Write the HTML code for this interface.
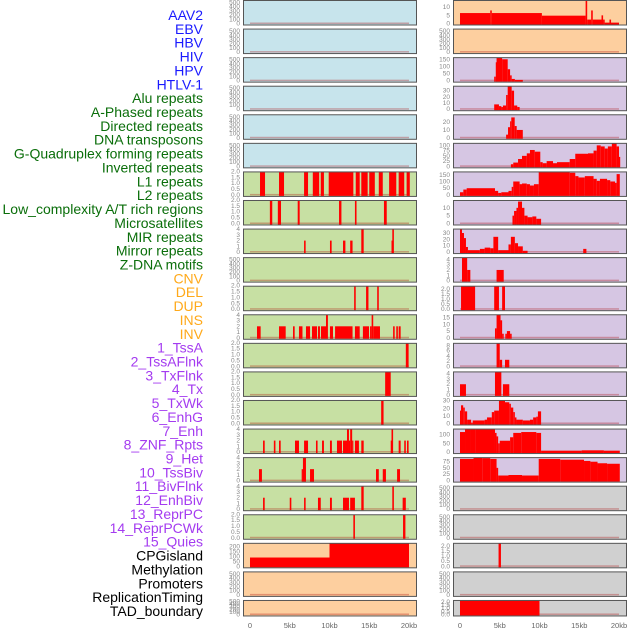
<!DOCTYPE html>
<html><head><meta charset="utf-8">
<style>
html,body{margin:0;padding:0;background:#fff;}
svg{display:block;}
.lbl{font-family:"Liberation Sans",sans-serif;font-size:14px;}
.tk{font-family:"Liberation Sans",sans-serif;font-size:6.5px;fill:#888;}
.xt{font-family:"Liberation Sans",sans-serif;font-size:7.5px;fill:#666;}
</style></head>
<body>
<svg id="chart" width="630" height="630" viewBox="0 0 630 630" xmlns="http://www.w3.org/2000/svg">
<g id="labels"></g>
<g id="panels"></g>
<g id="xaxes"></g>
</svg>
<script>
// ---- track labels ----
const trackLabels = ["AAV2","EBV","HBV","HIV","HPV","HTLV-1","Alu repeats","A-Phased repeats","Directed repeats","DNA transposons","G-Quadruplex forming repeats","Inverted repeats","L1 repeats","L2 repeats","Low_complexity A/T rich regions","Microsatellites","MIR repeats","Mirror repeats","Z-DNA motifs","CNV","DEL","DUP","INS","INV","1_TssA","2_TssAFlnk","3_TxFlnk","4_Tx","5_TxWk","6_EnhG","7_Enh","8_ZNF_Rpts","9_Het","10_TssBiv","11_BivFlnk","12_EnhBiv","13_ReprPC","14_ReprPCWk","15_Quies","CPGisland","Methylation","Promoters","ReplicationTiming","TAD_boundary"];
const labelGroups = ["v","v","v","v","v","v","r","r","r","r","r","r","r","r","r","r","r","r","r","c","c","c","c","c","s","s","s","s","s","s","s","s","s","s","s","s","s","s","s","o","o","o","o","o"];
const groupColors = {v:"#1a1aff",r:"#0a6e0a",c:"#ffa91a",s:"#a43bf0",o:"#000000"};

// ---- x axis ----
const xTickValues = [0,5,10,15,20];
const xTickLabels = ["0","5kb","10kb","15kb","20kb"];

// ---- tick sets ----
const t500 = ["0","100","200","300","400","500"];
const t2 = ["0.0","0.5","1.0","1.5","2.0"];
const t4 = ["0","1","2","3","4"];

// ---- left column bar data [startKb, endKb, value] ----
const L7 = [[1.26,1.89,2],[3.65,4.28,2],[6.8,7.3,2],[7.9,8.7,2],[8.9,9.3,2],[9.9,13.0,2],[13.3,13.8,2],[14.0,14.8,2],[15.0,15.7,2],[16.2,16.7,2],[17.5,18.4,2],[18.7,19.4,2],[19.7,20.1,2]];
const L8 = [[2.5,2.8,2],[3.5,3.9,2],[6.0,6.25,2],[11.2,11.5,2],[13.2,13.4,2],[16.85,17.2,2]];
const L9 = [[6.8,7.0,2],[10.06,10.27,2],[11.7,12.0,2],[12.6,12.9,2],[14.0,14.3,4],[17.8,17.9,2],[17.9,18.1,4]];
const L11 = [[13.1,13.3,2],[14.6,14.9,2],[16.0,16.2,2]];
const L12 = [[0.88,1.34,2],[3.65,4.49,2],[5.41,5.62,2],[6.16,6.6,2],[7.04,7.55,2],[7.8,8.43,2],[8.55,8.8,2],[8.93,9.56,2],[9.56,9.8,4],[10.06,10.44,2],[10.7,12.9,2],[13.2,13.8,2],[14.2,14.97,2],[15.1,15.3,2],[15.3,15.5,4],[15.5,16.35,2],[18.0,18.2,2],[18.4,18.6,2],[18.7,18.95,2]];
const L13 = [[19.6,19.95,2]];
const L14 = [[17.0,17.7,2]];
const L15 = [[16.5,16.8,2]];
const L16 = [[1.64,1.85,2],[3.0,3.2,2],[3.65,3.86,2],[5.66,6.16,2],[6.8,7.3,2],[8.3,8.5,2],[9.06,9.3,2],[10.06,10.3,2],[10.94,11.57,2],[11.7,12.2,2],[12.2,12.45,4],[12.45,12.6,2],[12.6,12.85,4],[12.85,12.9,2],[13.2,13.7,2],[14.0,14.3,2],[17.7,17.8,2],[17.8,18.0,4],[18.7,18.95,2],[19.4,19.6,2],[19.75,19.95,2]];
const L17 = [[1.13,1.5,2],[6.5,6.66,2],[6.66,7.04,4],[7.55,8.05,2],[15.85,16.2,2],[16.7,17.1,2],[18.5,18.87,2]];
const L18 = [[1.64,1.85,2],[5.0,5.2,2],[6.8,7.0,2],[8.55,8.9,2],[10.06,10.3,2],[11.7,12.45,2],[12.6,13.2,2],[14.0,14.3,4],[17.9,18.1,4],[19.2,19.6,2]];
const L19 = [[13.0,13.2,2],[19.25,19.55,2]];
const L20 = [[0,10,90],[10,20,240]];

// ---- right column step data [startKb, endKb, value] ----
const R1 = [[0,3.8,6.4],[3.8,4.0,8],[4.0,10.3,6.4],[10.3,15.8,4.8],[15.8,16.0,16],[16.0,16.5,2.4],[16.5,16.7,8],[16.7,17.8,2.4],[17.8,18.0,5],[18.0,18.2,2.4],[18.8,19.0,2.4],[18.2,20.0,0.5]];
const R3 = [[4.3,4.5,28],[4.5,4.6,129],[4.6,5.3,160],[5.3,6.0,150],[6.0,6.3,80],[6.3,6.5,37],[6.5,6.9,12],[6.9,7.9,5]];
const R4 = [[4.3,4.9,7.8],[4.9,5.2,5],[5.2,5.4,3.6],[5.4,5.8,6],[5.8,6.0,23],[6.0,6.5,38],[6.5,6.8,30],[6.8,7.2,6],[7.2,7.5,3.6]];
const R5 = [[5.8,6.04,4],[6.04,6.3,13.5],[6.3,6.45,21],[6.45,6.88,26],[6.88,7.13,15],[7.13,7.9,10]];
const R6 = [[6.4,6.7,10],[6.7,7.3,18],[7.3,7.8,35],[7.8,8.4,50],[8.4,8.8,62],[8.8,9.4,78],[9.4,10.1,70],[10.1,10.4,20],[10.4,10.9,15],[10.9,11.7,25],[11.7,12.2,15],[12.2,13.8,20],[13.8,14.5,35],[14.5,16.1,60],[16.1,16.8,62],[16.8,17.2,75],[17.2,17.7,100],[17.7,18.2,95],[18.2,18.6,85],[18.6,19.1,95],[19.1,19.7,110],[19.7,20.0,95],[20.0,20.1,45]];
const R7 = [[0,0.42,20],[0.42,0.84,40],[0.84,4.4,50],[4.4,4.8,30],[4.8,5.2,15],[5.2,6.1,20],[6.1,6.5,30],[6.5,6.7,60],[6.7,7.5,100],[7.5,7.8,80],[7.8,8.4,85],[8.4,8.8,80],[8.8,9.3,70],[9.3,9.9,80],[9.9,13.8,175],[13.8,14.5,165],[14.5,14.9,140],[14.9,15.7,130],[15.7,16.8,140],[16.8,17.2,120],[17.2,17.6,105],[17.6,18.5,120],[18.5,18.9,110],[18.9,19.5,100],[19.5,19.7,90],[19.7,20.1,155]];
const R8 = [[6.6,6.8,5],[6.8,7.1,8],[7.1,7.3,10],[7.3,7.8,14],[7.8,8.1,10],[8.1,8.5,5],[8.5,9.1,4],[9.1,9.6,4.5],[9.6,10.2,3]];
const R9 = [[0,0.25,36],[0.25,0.5,30],[0.5,0.75,22],[0.75,1.0,8],[1.0,2.5,3],[2.5,3.1,5],[3.1,3.8,7],[3.8,4.2,6],[4.2,4.8,24],[4.8,6.1,3],[6.1,6.4,12],[6.4,6.9,24],[6.9,7.3,14],[7.3,7.9,9],[7.9,8.5,2],[15.5,15.9,5]];
const R10 = [[0.25,0.9,4.3],[0.9,1.3,2],[4.6,5.5,2]];
const R11 = [[0.13,1.9,2.3],[4.3,4.9,2.3],[5.3,5.66,2.3]];
const R12 = [[4.4,4.6,7],[4.6,5.1,17],[5.1,5.3,13],[5.3,5.5,3],[5.7,5.9,3],[5.9,6.3,5],[6.3,6.5,3]];
const R13 = [[4.6,5.0,9],[5.0,5.3,2.5],[5.66,6.2,2.5]];
const R14 = [[0,0.75,2],[4.4,5.2,4.4],[5.4,6.2,2]];
const R15 = [[0,0.13,17],[0.13,0.4,24],[0.4,0.6,21],[0.6,0.9,16],[0.9,1.4,5],[1.4,1.6,1],[1.6,3.1,4],[3.1,3.4,5],[3.4,4.0,8],[4.0,4.3,15],[4.3,4.9,17],[4.9,5.66,31],[5.66,6.2,28],[6.2,6.4,26],[6.4,6.7,21],[6.7,6.9,15],[6.9,7.1,8],[7.1,7.9,5],[7.9,8.8,4],[8.8,9.2,5],[9.2,9.6,8],[9.6,9.8,9],[9.8,10.2,16]];
const R16 = [[0,0.63,115],[0.63,1.26,130],[1.26,1.9,135],[1.9,4.4,130],[4.4,4.6,110],[4.6,4.8,90],[4.8,5.0,50],[5.0,6.3,65],[6.3,6.7,85],[6.7,7.7,110],[7.7,9.6,115],[9.6,10.2,110],[10.2,15.3,8],[15.3,18.1,10],[18.1,20.1,8]];
const R17 = [[0,1.7,85],[1.7,2.8,92],[2.8,3.8,88],[3.8,4.6,85],[4.6,4.8,50],[4.8,6.1,20],[6.1,7.8,22],[7.8,9.9,20],[9.9,12.6,85],[12.6,15.6,82],[15.6,16.4,77],[16.4,17.3,74],[17.3,18.5,68],[18.5,20.1,66]];
const R20 = [[4.85,5.15,2.3]];
const R22 = [[0,10,2.3]];

// ---- panel specs: [data, ticks, dmax, bg] ----
const BLUE="#c7e4ec", GREEN="#c7e0a3", ORANGE="#fdcf9f", PURPLE="#d6c6e3", GRAY="#d0d0d0";
const leftPanels = [
 [[],t500,560,BLUE],[[],t500,560,BLUE],[[],t500,560,BLUE],[[],t500,560,BLUE],[[],t500,560,BLUE],[[],t500,560,BLUE],
 [L7,t2,2.0,GREEN],[L8,t2,2.0,GREEN],[L9,t4,4.1,GREEN],[[],t500,560,GREEN],[L11,t2,2.0,GREEN],[L12,t4,4.1,GREEN],
 [L13,t2,2.0,GREEN],[L14,t2,2.0,GREEN],[L15,t2,2.0,GREEN],[L16,t4,4.1,GREEN],[L17,t4,4.1,GREEN],[L18,t4,4.1,GREEN],[L19,t2,2.0,GREEN],
 [L20,["0","50","100","150","200"],240,ORANGE],[[],t500,560,ORANGE],[[],t500,560,ORANGE]
];
const rightPanels = [
 [R1,["0","5","10"],14.4,ORANGE],[[],t500,560,ORANGE],
 [R3,["0","50","100","150"],165,PURPLE],[R4,["0","10","20","30"],38,PURPLE],[R5,["0","10","20"],30,PURPLE],
 [R6,["0","25","50","75","100"],112,PURPLE],[R7,["0","50","100","150"],175,PURPLE],[R8,["0","5","10"],15,PURPLE],
 [R9,["0","10","20","30"],37,PURPLE],[R10,t4,4.4,PURPLE],[R11,t2,2.3,PURPLE],[R12,["0","5","10","15"],17.5,PURPLE],
 [R13,["0","2","4","6","8"],9,PURPLE],[R14,t4,4.4,PURPLE],[R15,["0","10","20","30"],31,PURPLE],
 [R16,["0","50","100"],135,PURPLE],[R17,["0","25","50","75"],92,PURPLE],
 [[],t500,560,GRAY],[[],t500,560,GRAY],[R20,t2,2.3,GRAY],[[],t500,560,GRAY],[R22,t2,2.3,GRAY]
];

const NS="http://www.w3.org/2000/svg";
function mk(tag, attrs, parent){const e=document.createElementNS(NS,tag);for(const k in attrs)e.setAttribute(k,attrs[k]);parent.appendChild(e);return e;}

// labels
const lg=document.getElementById('labels');
trackLabels.forEach((t,i)=>{
  const e=mk('text',{x:203,y:15+i*13.86+5,'text-anchor':'end',class:'lbl',fill:groupColors[labelGroups[i]]},lg);
  
  
  e.textContent=t;
});

const pg=document.getElementById('panels');
const PX_PER_KB=7.95;
function rowTop(i){return i*28.57;}
function rowH(i){return i===21?16:25;}
function xScale(col,kb){return (col===0?250:460)+kb*PX_PER_KB;}

function drawPanel(col,i,spec){
  const [data,ticks,dmax,bg]=spec;
  const x0=col===0?243:453, w=173, top=rowTop(i), h=rowH(i), y0=top+h-1.5;
  const yS=v=>y0-Math.min(v,dmax)/dmax*(h-1.5);
  const g=mk('g',{},pg);
  
  
  const bgr=mk('rect',{x:x0+0.5,y:top+0.5,width:w,height:h-0.5,fill:bg,stroke:'none'},g);
  
  
  const bl=mk('rect',{x:xScale(col,0),y:y0-1,width:20*PX_PER_KB,height:1.5,fill:'rgba(170,0,0,0.3)'},g);
  
  
  data.forEach(d=>{
    const xa=xScale(col,d[0]), xb=xScale(col,d[1]), yv=yS(d[2]);
    const r=mk('rect',{x:xa,y:Math.max(yv,top+0.5),width:Math.max(xb-xa,1.2),height:y0-Math.max(yv,top+0.5)+1,fill:'#ff0000'},g);
    
    
  });
  const br=mk('rect',{x:x0+0.5,y:top+0.5,width:w,height:h-0.5,fill:'none',stroke:'#555',"stroke-width":1},g);
  
  
  const n=ticks.length;
  ticks.forEach((t,k)=>{
    const v=parseFloat(t);
    const maxT=parseFloat(ticks[n-1]);
    const ty=y0-(v/maxT)*((maxT/dmax)*(h-1.5));
    const tx=mk('text',{x:x0-3,y:ty+2,'text-anchor':'end',class:'tk'},g);
    
    
    tx.textContent=t;
  });
}
leftPanels.forEach((s,i)=>drawPanel(0,i,s));
rightPanels.forEach((s,i)=>drawPanel(1,i,s));

const xg=document.getElementById('xaxes');
[0,1].forEach(col=>{
  xTickValues.forEach((v,k)=>{
    const t=mk('text',{x:xScale(col,v),y:628,'text-anchor':'middle',class:'xt'},xg);
    
    
    t.textContent=xTickLabels[k];
  });
});
</script>
</body></html>
